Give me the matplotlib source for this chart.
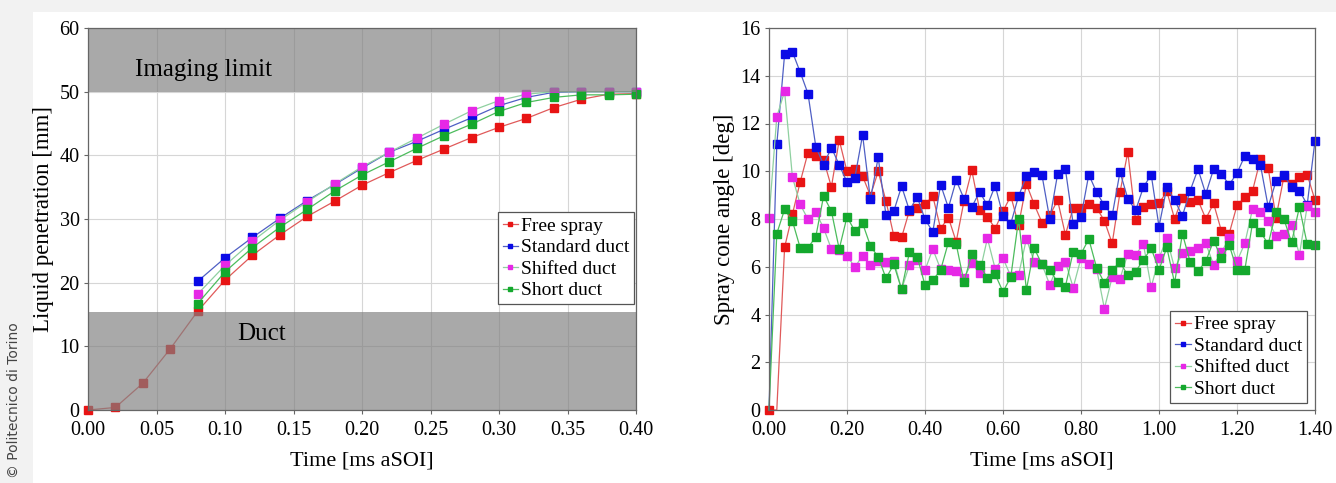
import matplotlib.pyplot as plt
import matplotlib.patches as mpatches
import numpy as np

# left panel: liquid penetration
time_l = [0.00, 0.02, 0.04, 0.06, 0.08, 0.10, 0.12, 0.14, 0.16, 0.18, 0.20,
          0.22, 0.24, 0.26, 0.28, 0.30, 0.32, 0.34, 0.36, 0.38, 0.40]
time_duct = time_l[4:]
free_pen = [0, 0.4, 4.2, 9.6, 15.5, 20.4, 24.3, 27.5, 30.4, 32.8, 35.3,
            37.3, 39.2, 41.0, 42.8, 44.4, 45.8, 47.5, 48.8, 49.6, 49.7]
std_pen = [20.2, 23.9, 27.1, 30.1, 32.9, 35.4, 38.0, 40.5, 42.2, 44.1, 45.9,
           47.8, 49.1, 49.9, 50.0, 50.0, 50.0]
shift_pen = [18.2, 22.7, 26.5, 29.8, 32.7, 35.5, 38.2, 40.5, 42.7, 44.9, 47.0,
             48.6, 49.6, 50.0, 50.0, 50.0, 50.0]
short_pen = [16.7, 21.7, 25.5, 28.7, 31.5, 34.4, 36.9, 39.0, 41.1, 43.1, 44.9,
             46.9, 48.3, 49.1, 49.5, 49.5, 49.6]

# right panel: spray cone angle, every 0.02 ms
time_r = [round(0.02 * i, 2) for i in range(71)]
free_ang = [0, 0, 6.81, 8.2, 9.55, 10.78, 10.64, 10.48, 9.34, 11.31,
            9.99, 10.09, 9.79, 8.98, 9.99, 8.75, 7.30, 7.23, 8.35, 8.47,
            8.61, 8.96, 7.60, 8.06, 7.05, 8.75, 10.04, 8.38, 8.09, 7.60,
            8.33, 8.96, 7.75, 9.47, 8.61, 7.85, 8.15, 8.79, 7.34, 8.47,
            8.47, 8.61, 8.47, 7.92, 6.98, 9.12, 10.80, 7.96, 8.51, 8.61,
            8.65, 9.16, 8.01, 8.89, 8.71, 8.79, 8.01, 8.65, 7.50, 7.39,
            8.57, 8.91, 9.19, 10.50, 10.13, 8.06, 9.75, 9.45, 9.75, 9.86,
            8.79]
std_ang = [0, 11.13, 14.9, 15.0, 14.15, 13.25, 11.03, 10.27, 10.99, 10.27,
           9.54, 9.72, 11.52, 8.82, 10.58, 8.15, 8.33, 9.37, 8.36, 8.93,
           7.99, 7.46, 9.44, 8.47, 9.62, 8.85, 8.50, 9.14, 8.57, 9.40,
           8.13, 7.81, 8.96, 9.79, 9.97, 9.83, 7.99, 9.88, 10.09, 7.78,
           8.09, 9.86, 9.12, 8.57, 8.15, 9.97, 8.85, 8.36, 9.33, 9.86,
           7.68, 9.33, 8.79, 8.13, 9.19, 10.09, 9.05, 10.09, 9.88, 9.44,
           9.92, 10.64, 10.50, 10.27, 8.51, 9.58, 9.86, 9.33, 9.19, 8.60,
           11.28]
shift_ang = [8.06, 12.28, 13.35, 9.76, 8.61, 7.99, 8.29, 7.62, 6.74, 6.70,
             6.47, 5.98, 6.47, 6.08, 6.26, 6.19, 6.25, 5.05, 6.07, 6.3,
             5.86, 6.74, 5.9, 5.85, 5.83, 5.54, 6.15, 5.73, 7.19, 5.91,
             6.36, 5.6, 5.66, 7.17, 6.21, 6.1, 5.24, 6.05, 6.21, 5.13,
             6.36, 6.12, 5.91, 4.25, 5.57, 5.50, 6.54, 6.50, 6.95, 5.15,
             6.36, 7.19, 5.94, 6.56, 6.65, 6.77, 6.98, 6.08, 6.61, 7.19,
             6.23, 6.98, 8.43, 8.29, 7.92, 7.30, 7.37, 7.74, 6.50, 8.54,
             8.29]
short_ang = [0, 7.39, 8.40, 7.92, 6.79, 6.79, 7.26, 8.96, 8.33, 6.74,
             8.09, 7.50, 7.82, 6.88, 6.40, 5.52, 6.10, 5.05, 6.6, 6.42,
             5.23, 5.44, 5.86, 7.02, 6.95, 5.36, 6.54, 6.08, 5.53, 5.68,
             4.95, 5.57, 7.99, 5.04, 6.77, 6.10, 5.87, 5.35, 5.17, 6.63,
             6.54, 7.16, 5.96, 5.32, 5.87, 6.19, 5.64, 5.80, 6.29, 6.77,
             5.87, 6.81, 5.32, 7.39, 6.19, 5.82, 6.23, 7.09, 6.37, 6.91,
             5.87, 5.87, 7.85, 7.46, 6.95, 8.29, 8.01, 7.02, 8.50, 6.95,
             6.91]

labels = ['Free spray', 'Standard duct', 'Shifted duct', 'Short duct']
mcolors = ['#e81414', '#0a0ae6', '#e628e6', '#14a82d']
lcolors = ['#e05a5a', '#4f5fc4', '#8fd0a0', '#4cbc5c']

plt.rcParams['font.family'] = ['Liberation Serif', 'DejaVu Serif']

fig = plt.figure(figsize=(13.36, 4.83), dpi=100)
fig.patch.set_facecolor('#f2f2f2')
panel = mpatches.Rectangle((33 / 1336, 0), 1, (483 - 12) / 483,
                           transform=fig.transFigure, facecolor='white',
                           edgecolor='none', zorder=-10)
fig.patches.append(panel)
fig.text(0.005, 0.01, '\u00a9 Politecnico di Torino', rotation=90,
         family='DejaVu Sans', fontsize=10, color='#444444',
         ha='left', va='bottom')

ax1 = fig.add_axes([88 / 1336, 73 / 483, 548 / 1336, 382 / 483])
ax2 = fig.add_axes([769 / 1336, 73 / 483, 546 / 1336, 382 / 483])


def style_axes(ax):
    ax.set_axisbelow(True)
    ax.grid(True, color='#d6d6d6', linewidth=0.8)
    for s in ax.spines.values():
        s.set_color('#666666')
        s.set_linewidth(0.9)
    ax.tick_params(direction='out', length=3, width=0.8, color='#666666',
                   labelsize=14.5, pad=3)
    ax.tick_params(axis='x', pad=5)


def make_legend(ax, anchor):
    leg = ax.legend(loc='lower right', bbox_to_anchor=anchor, borderaxespad=0,
                    fontsize=14, labelspacing=0.2, handlelength=0.8,
                    handletextpad=0.15, borderpad=0.25, markerscale=0.6,
                    fancybox=False, framealpha=1)
    leg.get_frame().set_edgecolor('#555555')
    leg.get_frame().set_linewidth(0.9)
    leg.set_zorder(6)


# left chart
ax1.plot(time_l, free_pen, '-s', color=lcolors[0], mfc=mcolors[0], mec=mcolors[0],
         ms=5.5, lw=0.9, label=labels[0], zorder=2, clip_on=False)
for vals, lab, mc, lc in zip([std_pen, shift_pen, short_pen], labels[1:],
                             mcolors[1:], lcolors[1:]):
    ax1.plot(time_duct, vals, '-s', color=lc, mfc=mc, mec=mc, ms=5.5, lw=0.9,
             label=lab, zorder=2, clip_on=False)
ax1.axhspan(50, 60, color='#808080', alpha=0.68, lw=0, zorder=2.2)
ax1.axhspan(0, 15.4, color='#808080', alpha=0.68, lw=0, zorder=2.2)
ax1.text(0.034, 53.4, 'Imaging limit', fontsize=18, va='center', zorder=5)
ax1.text(0.109, 12.0, 'Duct', fontsize=18, va='center', zorder=5)
ax1.set_xlim(0, 0.40)
ax1.set_ylim(0, 60)
ax1.set_xticks(np.arange(0, 0.401, 0.05))
ax1.set_xticklabels(['%.2f' % t for t in np.arange(0, 0.401, 0.05)])
ax1.set_yticks(range(0, 61, 10))
ax1.set_xlabel('Time [ms aSOI]', fontsize=16, labelpad=8)
ax1.set_ylabel('Liquid penetration [mm]', fontsize=16.5, labelpad=4)
style_axes(ax1)
make_legend(ax1, (0.997, 0.277))

# right chart
series = [free_ang, std_ang, shift_ang, short_ang]
marks = [[0] + list(range(2, 71)), slice(1, None), None, slice(1, None)]
for i, vals in enumerate(series):
    ax2.plot(time_r, vals, '-s', color=lcolors[i], mfc=mcolors[i],
             mec=mcolors[i], ms=5.5, lw=0.9, label=labels[i], zorder=2,
             clip_on=False, markevery=marks[i])
ax2.set_xlim(0, 1.40)
ax2.set_ylim(0, 16)
ax2.set_xticks(np.arange(0, 1.401, 0.2))
ax2.set_xticklabels(['%.2f' % t for t in np.arange(0, 1.401, 0.2)])
ax2.set_yticks(range(0, 17, 2))
ax2.set_xlabel('Time [ms aSOI]', fontsize=16, labelpad=8)
ax2.set_ylabel('Spray cone angle [deg]', fontsize=16.5, labelpad=4)
style_axes(ax2)
make_legend(ax2, (0.985, 0.019))

plt.savefig('out.png', dpi=100, facecolor=fig.get_facecolor())
